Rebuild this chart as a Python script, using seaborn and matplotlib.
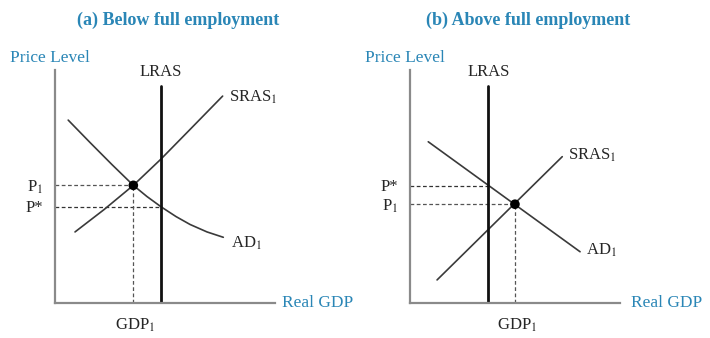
import matplotlib
matplotlib.use("Agg")
import matplotlib.pyplot as plt
import seaborn as sns

sns.set_style("white")
plt.rcParams["font.family"] = ["Liberation Serif", "DejaVu Serif"]
plt.rcParams["mathtext.fontset"] = "stix"

TEAL = "#2a86b6"

# ---------------- data (arbitrary diagram units) ----------------
# Panel (a) Below full employment
a_lras_x = 4.82
a_lras_top = 9.31
a_sras_x = [0.91, 2.23, 3.56, 4.82, 6.14, 7.62]
a_sras_y = [3.05, 4.01, 5.05, 6.18, 7.45, 8.88]
a_ad_x = [0.60, 1.59, 2.59, 3.56, 4.18, 4.82, 5.50, 6.14, 6.91, 7.65]
a_ad_y = [7.85, 6.89, 5.94, 5.05, 4.57, 4.13, 3.71, 3.37, 3.05, 2.82]
a_eq_x, a_eq_y = 3.56, 5.05      # GDP1, P1
a_pstar = 4.13                    # P*

# Panel (b) Above full employment
b_lras_x = 3.56
b_lras_top = 9.31
b_sras_x = [1.23, 6.92]
b_sras_y = [0.99, 6.28]
b_ad_x = [0.83, 7.73]
b_ad_y = [6.92, 2.20]
b_eq_x, b_eq_y = 4.77, 4.24      # GDP1, P1
b_pstar = 5.02                    # P*

titles = ["(a) Below full employment", "(b) Above full employment"]

fig = plt.figure(figsize=(7.1, 3.38), dpi=100)
ax1 = fig.add_axes([55 / 710, 35 / 338, 220 / 710, 233 / 338])
ax2 = fig.add_axes([410 / 710, 35 / 338, 210 / 710, 233 / 338])


def draw(ax, xmax, lras_x, lras_top, sras_x, sras_y, ad_x, ad_y, eq_x, eq_y,
         pstar, labels):
    ax.set_xlim(0, xmax)
    ax.set_ylim(0, 10)
    for s in ["top", "right"]:
        ax.spines[s].set_visible(False)
    for s in ["left", "bottom"]:
        ax.spines[s].set_color("#8a8a8a")
        ax.spines[s].set_linewidth(1.6)
    ax.set_xticks([])
    ax.set_yticks([])
    ax.set_xlabel("")
    ax.set_ylabel("")

    # dashed guides
    ax.plot([0, eq_x], [eq_y, eq_y], ls=(0, (3, 2)), color="#555555", lw=0.9)
    ax.plot([0, lras_x], [pstar, pstar], ls=(0, (3, 2)), color="#333333", lw=0.9)
    ax.plot([eq_x, eq_x], [0, eq_y], ls=(0, (3, 2)), color="#555555", lw=0.9)

    # curves
    sns.lineplot(x=sras_x, y=sras_y, ax=ax, color="#3a3a3a", lw=1.2,
                 sort=False, estimator=None)
    sns.lineplot(x=ad_x, y=ad_y, ax=ax, color="#3a3a3a", lw=1.2,
                 sort=False, estimator=None)
    sns.lineplot(x=[lras_x, lras_x], y=[0, lras_top], ax=ax, color="#111111",
                 lw=2.0, sort=False, estimator=None)
    sns.scatterplot(x=[eq_x], y=[eq_y], ax=ax, color="black", s=48,
                    edgecolor="none", zorder=5)

    fs = 12
    ax.text(lras_x, 9.91, "LRAS", ha="center", va="center", fontsize=fs,
            clip_on=False)
    ax.text(*labels["sras"], r"SRAS$_1$", ha="left", va="center", fontsize=fs,
            clip_on=False)
    ax.text(*labels["ad"], r"AD$_1$", ha="left", va="center", fontsize=fs,
            clip_on=False)
    ax.text(eq_x + 0.1, -0.95, r"GDP$_1$", ha="center", va="center",
            fontsize=fs, clip_on=False)
    ax.text(-0.55, eq_y - 0.1, r"P$_1$", ha="right", va="center", fontsize=fs,
            clip_on=False)
    ax.text(-0.55, pstar - 0.05, r"P*", ha="right", va="center", fontsize=fs,
            clip_on=False)
    ax.text(labels["gdp_x"], 0.0, "Real GDP", ha="left", va="center",
            fontsize=12.5, color=TEAL, clip_on=False)
    ax.text(-2.05, 10.5, "Price Level", ha="left", va="center", fontsize=12.5,
            color=TEAL, clip_on=False)


draw(ax1, 10.0, a_lras_x, a_lras_top, a_sras_x, a_sras_y, a_ad_x, a_ad_y,
     a_eq_x, a_eq_y, a_pstar,
     {"sras": (7.9, 8.84), "ad": (8.0, 2.58), "gdp_x": 10.32})
draw(ax2, 210 / 22, b_lras_x, b_lras_top, b_sras_x, b_sras_y, b_ad_x, b_ad_y,
     b_eq_x, b_eq_y, b_pstar,
     {"sras": (7.18, 6.35), "ad": (8.0, 2.27), "gdp_x": 10.05})

fig.text(178 / 710, 1 - 20 / 338, titles[0], ha="center", va="center",
         fontsize=13, fontweight="bold", color=TEAL)
fig.text(528 / 710, 1 - 20 / 338, titles[1], ha="center", va="center",
         fontsize=13, fontweight="bold", color=TEAL)

fig.savefig("out.png", dpi=100)
